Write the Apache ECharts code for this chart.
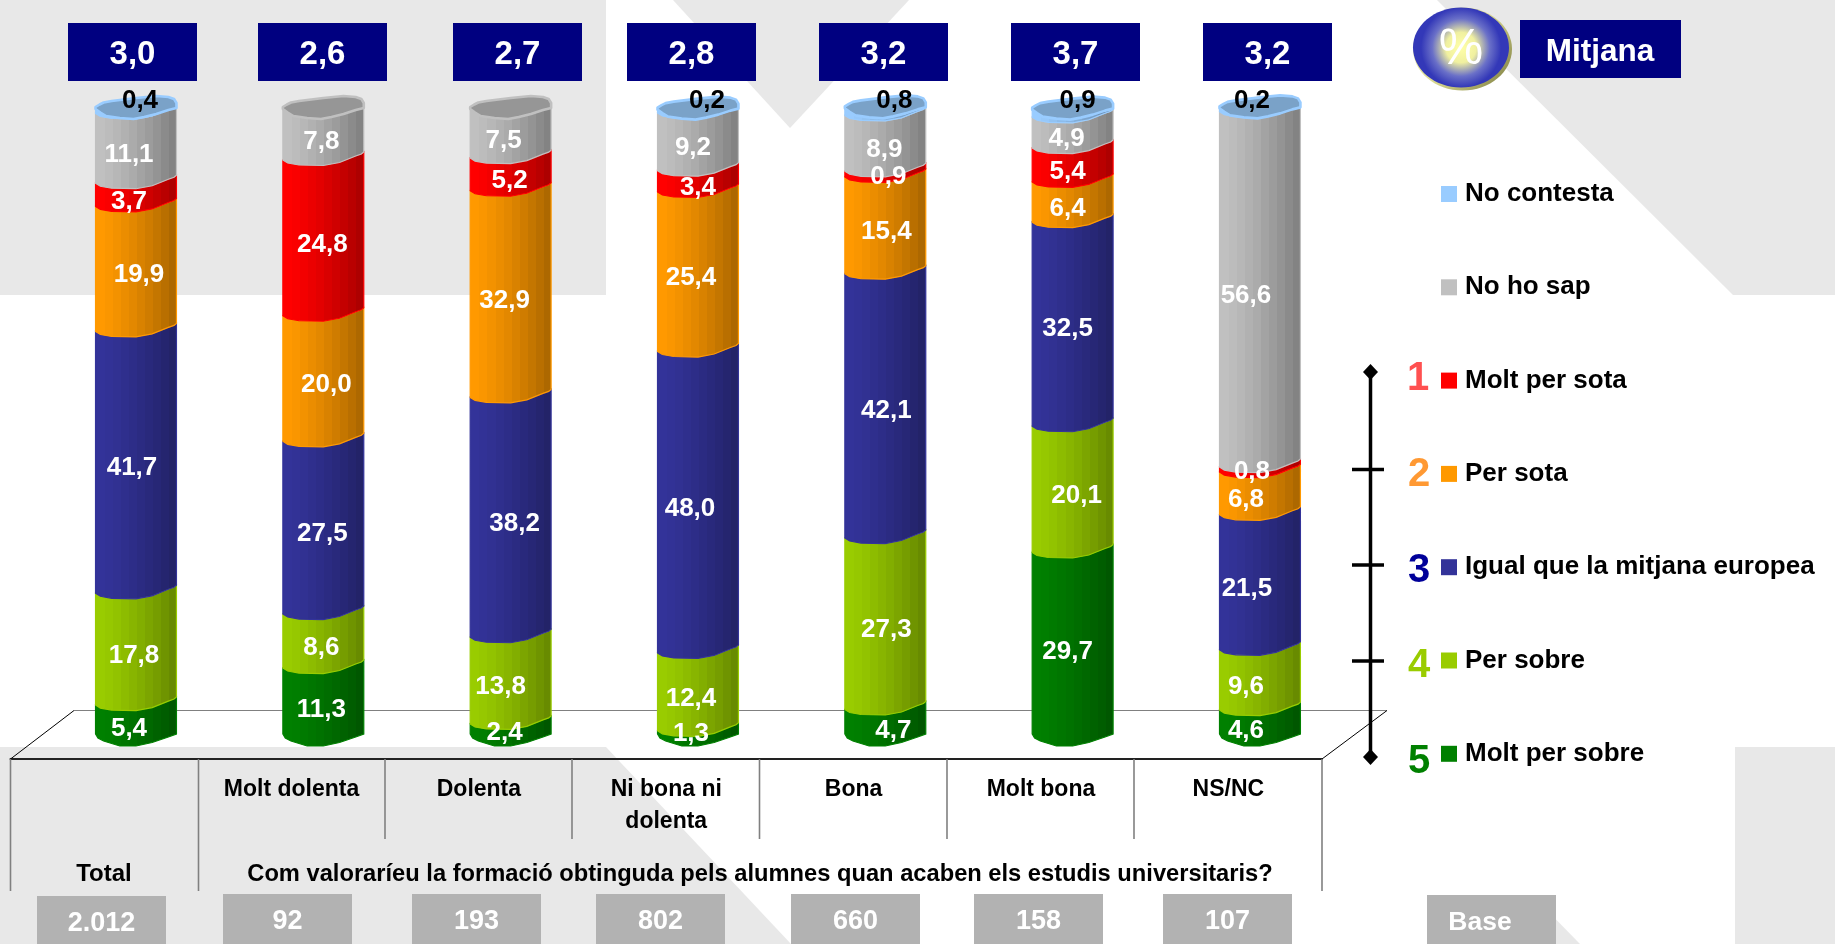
<!DOCTYPE html>
<html><head><meta charset="utf-8">
<style>html,body{margin:0;padding:0;background:#fff}#c{width:1835px;height:944px}</style>
<script src="https://cdn.jsdelivr.net/npm/echarts@6/dist/echarts.min.js"></script>
</head><body><div id="c"></div>
<script>
// ---------- data ----------
const categories = ['Total','Molt dolenta','Dolenta','Ni bona ni dolenta','Bona','Molt bona','NS/NC'];
const axisLabels = ['','Molt dolenta','Dolenta','Ni bona ni\ndolenta','Bona','Molt bona','NS/NC'];
const means = ['3,0','2,6','2,7','2,8','3,2','3,7','3,2'];
const bases = ['2.012','92','193','802','660','158','107'];
const moltPerSobre = [5.4,11.3,2.4,1.3,4.7,29.7,4.6];
const perSobre     = [17.8,8.6,13.8,12.4,27.3,20.1,9.6];
const igual        = [41.7,27.5,38.2,48.0,42.1,32.5,21.5];
const perSota      = [19.9,20.0,32.9,25.4,15.4,6.4,6.8];
const moltPerSota  = [3.7,24.8,5.2,3.4,0.9,5.4,0.8];
const noHoSap      = [11.1,7.8,7.5,9.2,8.9,4.9,56.6];
const noContesta   = [0.4,null,null,0.2,0.8,0.9,0.2];
const seriesNames  = ['Molt per sobre','Per sobre','Igual que la mitjana europea','Per sota','Molt per sota','No ho sap','No contesta'];
const seriesValues = [moltPerSobre,perSobre,igual,perSota,moltPerSota,noHoSap,noContesta];
const seriesColors = ['#008000','#99CC00','#333399','#FF9900','#FF0000','#C0C0C0','#99CCFF'];
const questionText = 'Com valoraríeu la formació obtinguda pels alumnes quan acaben els estudis universitaris?';

// ---------- layout only ----------
const FONT = "'Liberation Sans',Arial,sans-serif";
const GREY = '#E8E8E8';
const meanBoxX = [68,258,453,627,819,1011,1203];
const baseBoxX = [37,223,412,596,791,974,1163];
const tableX = [10.5,198.5,385,572,759.5,947,1134,1322];
// label nudges in px, per bar (rows) and segment (columns, bottom to top)
const labelDx = [
 [-7,-2,-4,3,-7,-7,4],
 [-2,-2,-1,3,-1,-2,0],
 [-6,-10,4,-6,-1,-7,0],
 [-7,-7,-8,-7,0,-5,9],
 [8,1,1,1,3,-1,9],
 [-5,4,-5,-5,-5,-6,5],
 [-14,-14,-13,-14,-8,-14,-8]
];
const labelDy = [
 [0,0,-1,-1,0,0,0],[0,0,0,0,0,0,0],[-5,0,0,0,0,0,0],
 [-8,0,0,0,0,0,0],[0,0,-2,0,-4,0,0],[0,0,-2,0,0,0,0],[0,0,0,0,-4,0,0]
];
const edgeProfile = [[0,0],[.06,3],[.2,5],[.5,5.5],[.7,2.5],[.9,-4],[.97,-6],[1,-8]];
const bottomProfile = [[0,-5],[.03,-1],[.1,2],[.3,7],[.5,7],[.7,3.5],[.9,-2],[1,-5]];
const capBottomProfile = [[0,1],[.06,4.5],[.13,8],[.3,10],[.47,11],[.6,9],[.75,6],[.9,2],[1,0]];
const capTopProfile = [[0,-1],[.05,-3.5],[.1,-5.5],[.2,-7],[.5,-10],[.75,-12],[.9,-11],[.97,-9],[1,-5]];
const CAP_SHIFT = -3;

function shade(hex,f){
  const n=parseInt(hex.slice(1),16);
  const p=[n>>16&255,n>>8&255,n&255].map(v=>Math.round(v*f));
  return 'rgb('+p.join(',')+')';
}
function bandFill(hex){
  const n=10, stops=[];
  for(let i=0;i<n;i++){
    const a=i===0?0:0.12+(i-1)*0.88/(n-1), b=0.12+i*0.88/(n-1);
    const f=1-0.32*Math.pow(i/(n-1),1.3);
    const col=shade(hex,f);
    stops.push({offset:a,color:col},{offset:b,color:col});
  }
  return {type:'linear',x:0,y:0,x2:1,y2:0,colorStops:stops};
}
const topSeriesOf = categories.map((_,i)=>{
  let t=0; seriesValues.forEach((s,k)=>{ if(s[i]!=null) t=k; }); return t;
});
function edge(x,w,y,prof,reverse){
  const pts=prof.map(p=>[x+p[0]*w,y+p[1]]);
  return reverse?pts.reverse():pts;
}
function makeSegmentSeries(k){
  const values=seriesValues[k], data=[];
  values.forEach((v,i)=>{
    if(v==null) return;
    let base=0; for(let j=0;j<k;j++) base+=seriesValues[j][i]||0;
    data.push([i,base,base+v,v]);
  });
  return {
    name:seriesNames[k],type:'custom',z:3+k*0.01,silent:true,
    itemStyle:{color:seriesColors[k]},
    encode:{x:0,y:2},
    data:data,clip:false,
    renderItem:function(params,api){
      const i=api.value(0), w=api.size([1,0])[0]*0.432;
      const c0=api.coord([i,api.value(1)]), c1=api.coord([i,api.value(2)]);
      const x=c0[0]-w/2, color=seriesColors[k], isTop=topSeriesOf[i]===k;
      const capY=c1[1]+CAP_SHIFT;
      const lower=edge(x,w,c0[1],k===0?bottomProfile:edgeProfile,false);
      const upper=isTop?edge(x,w,capY,capBottomProfile,true):edge(x,w,c1[1],edgeProfile,true);
      const children=[{
        type:'polygon',shape:{points:lower.concat(upper)},
        style:{fill:bandFill(color),stroke:color,lineWidth:1.2}
      }];
      if(isTop){
        const capTop=edge(x,w,capY,capTopProfile,true);
        const capBot=edge(x,w,capY,capBottomProfile,false);
        const capFill=k===6?'#7AA2C8':'#969696';
        children.push({
          type:'polygon',shape:{points:capBot.concat(capTop)},
          style:{fill:capFill,stroke:color,lineWidth:2.6,lineJoin:'round'}
        });
      }
      return {type:'group',children:children};
    }
  };
}
function makeLabelSeries(){
  const data=[];
  categories.forEach((_,i)=>{
    let base=0;
    seriesValues.forEach((s,k)=>{
      const v=s[i]; if(v==null) return;
      data.push([i,base+v/2,k,v]);
      base+=v;
    });
  });
  return {
    type:'custom',z:6,silent:true,clip:false,encode:{x:0,y:1},data:data,
    renderItem:function(params,api){
      const i=api.value(0), k=api.value(2), v=api.value(3);
      const c=api.coord([i,api.value(1)]);
      const isNC=k===6;
      const y=isNC?api.coord([i,100])[1]-10:c[1]+6.5+labelDy[i][k];
      const x=c[0]+labelDx[i][k];
      return {type:'text',style:{
        text:v.toFixed(1).replace('.',','),x:x,y:y,
        fill:isNC?'#000':'#fff',font:'bold 26px '+FONT,
        align:'center',verticalAlign:'middle',textAlign:'center',textVerticalAlign:'middle'
      }};
    }
  };
}
// ---------- decoration ----------
function poly(pts,fill,z){return {type:'polygon',z:z==null?-1:z,silent:true,shape:{points:pts},style:{fill:fill}};}
function line(x1,y1,x2,y2,stroke,lw,z){return {type:'line',z:z==null?1:z,silent:true,shape:{x1,y1,x2,y2},style:{stroke,lineWidth:lw}};}
function rect(x,y,w,h,fill,z){return {type:'rect',z:z==null?2:z,silent:true,shape:{x,y,width:w,height:h},style:{fill}};}
function text(t,x,y,font,fill,extra){
  return {type:'text',z:8,silent:true,style:Object.assign({text:t,x,y,font:font+' '+FONT,fill,
    align:'center',verticalAlign:'middle',textAlign:'center',textVerticalAlign:'middle'},extra||{})};
}
const shadow={textShadowColor:'#222',textShadowBlur:0,textShadowOffsetX:1.5,textShadowOffsetY:1.5};
const graphics=[
  poly([[0,0],[606,0],[606,295],[0,295]],GREY),
  poly([[673,0],[909,0],[790,128]],GREY),
  poly([[1437,0],[1835,0],[1835,295],[1733,295]],GREY),
  poly([[0,747],[606,747],[791,944],[0,944]],GREY),
  poly([[1735,747],[1835,747],[1835,944],[1735,944]],GREY),
  poly([[1532,895],[1580,944],[1500,944]],GREY),
  // floor
  line(74,710.5,1387,710.5,'#808080',1.2),
  line(74,710.5,10.5,759,'#000',1),
  line(1387,710.5,1322,759,'#000',1)
];
tableX.forEach((x,i)=>{
  const outer=i===0||i===1||i===7;
  graphics.push(line(x,759,x,outer?891:839,'#808080',1.6));
});
means.forEach((m,i)=>{
  graphics.push(rect(meanBoxX[i],23,129,58,'#000080'));
  graphics.push(text(m,meanBoxX[i]+64.5,54.5,'bold 33px','#fff',shadow));
});
bases.forEach((b,i)=>{
  const top=i===0?896:894;
  graphics.push(rect(baseBoxX[i],top,129,944-top,'#B2B2B2'));
  graphics.push(text(b,baseBoxX[i]+64.5,i===0?924:922,'bold 27px','#fff',shadow));
});
graphics.push(rect(1427,895,129,49,'#B2B2B2'));
graphics.push(text('Base',1480,923,'bold 26.5px','#fff',shadow));
graphics.push(text('Total',104,874,'bold 24px','#000'));
graphics.push(text(questionText,760,874,'bold 23.7px','#000'));
// badge
graphics.push({type:'ellipse',z:7,silent:true,shape:{cx:1462.5,cy:49,rx:49.5,ry:41.5},
  style:{fill:{type:'linear',x:0,y:0,x2:1,y2:1,colorStops:[{offset:0,color:'#FFFFC0'},{offset:.5,color:'#D8D890'},{offset:1,color:'#77773A'}]}}});
graphics.push({type:'ellipse',z:7,silent:true,shape:{cx:1461,cy:47.5,rx:48,ry:40},
  style:{fill:{type:'radial',x:.5,y:.5,r:.5,colorStops:[{offset:0,color:'#FFFFA8'},{offset:.38,color:'#F0F0A0'},{offset:.72,color:'#6A70C8'},{offset:1,color:'#3338B8'}]}}});
graphics.push(text('%',1461,50,'50px','#fff',{textShadowColor:'#000',textShadowBlur:0,textShadowOffsetX:1.5,textShadowOffsetY:1.5}));
graphics.push(rect(1520,20,161,58,'#000080'));
graphics.push(text('Mitjana',1600,52,'bold 31.5px','#fff',shadow));
// scale
graphics.push(line(1370.5,372,1370.5,755,'#000',3.5,7));
[469.5,565,661].forEach(y=>graphics.push(line(1352,y,1384,y,'#000',3.5,7)));
[372,757].forEach(y=>graphics.push(poly([[1370.5,y-8],[1378,y],[1370.5,y+8],[1363,y]],'#000',7)));
const numerals=[['1',1418,379,'#FF5050'],['2',1419,474.5,'#FF9933'],['3',1419,570.5,'#000099'],['4',1419,666,'#99CC00'],['5',1419,762,'#008000']];
numerals.forEach(n=>graphics.push(text(n[0],n[1],n[2],'bold 40px',n[3])));

const chart=echarts.init(document.getElementById('c'),null,{renderer:'canvas'});
chart.setOption({
  animation:false,
  backgroundColor:'#fff',
  grid:[
    {left:42.33,width:1311.3,top:111,height:628},
    {left:10.5,width:1311.5,top:758,height:1}
  ],
  xAxis:[
    {type:'category',gridIndex:0,data:categories,show:false},
    {type:'category',gridIndex:1,data:axisLabels,position:'bottom',
     axisLine:{show:true,lineStyle:{color:'#222',width:2}},axisTick:{show:false},
     axisLabel:{show:true,interval:0,margin:15,fontFamily:FONT,fontWeight:'bold',fontSize:23,color:'#000',lineHeight:32,verticalAlign:'top'}}
  ],
  yAxis:[
    {type:'value',gridIndex:0,min:0,max:100,show:false},
    {type:'value',gridIndex:1,min:0,max:1,show:false}
  ],
  legend:{
    orient:'vertical',left:1436,top:176,icon:'rect',itemWidth:16,itemHeight:16,itemGap:67.3,
    selectedMode:false,
    data:seriesNames.slice().reverse(),
    textStyle:{fontFamily:FONT,fontWeight:'bold',fontSize:26,color:'#000',lineHeight:28,padding:[-4,0,0,3]}
  },
  graphic:{elements:graphics},
  series:seriesValues.map((_,k)=>makeSegmentSeries(k)).concat([makeLabelSeries()])
});
</script></body></html>
